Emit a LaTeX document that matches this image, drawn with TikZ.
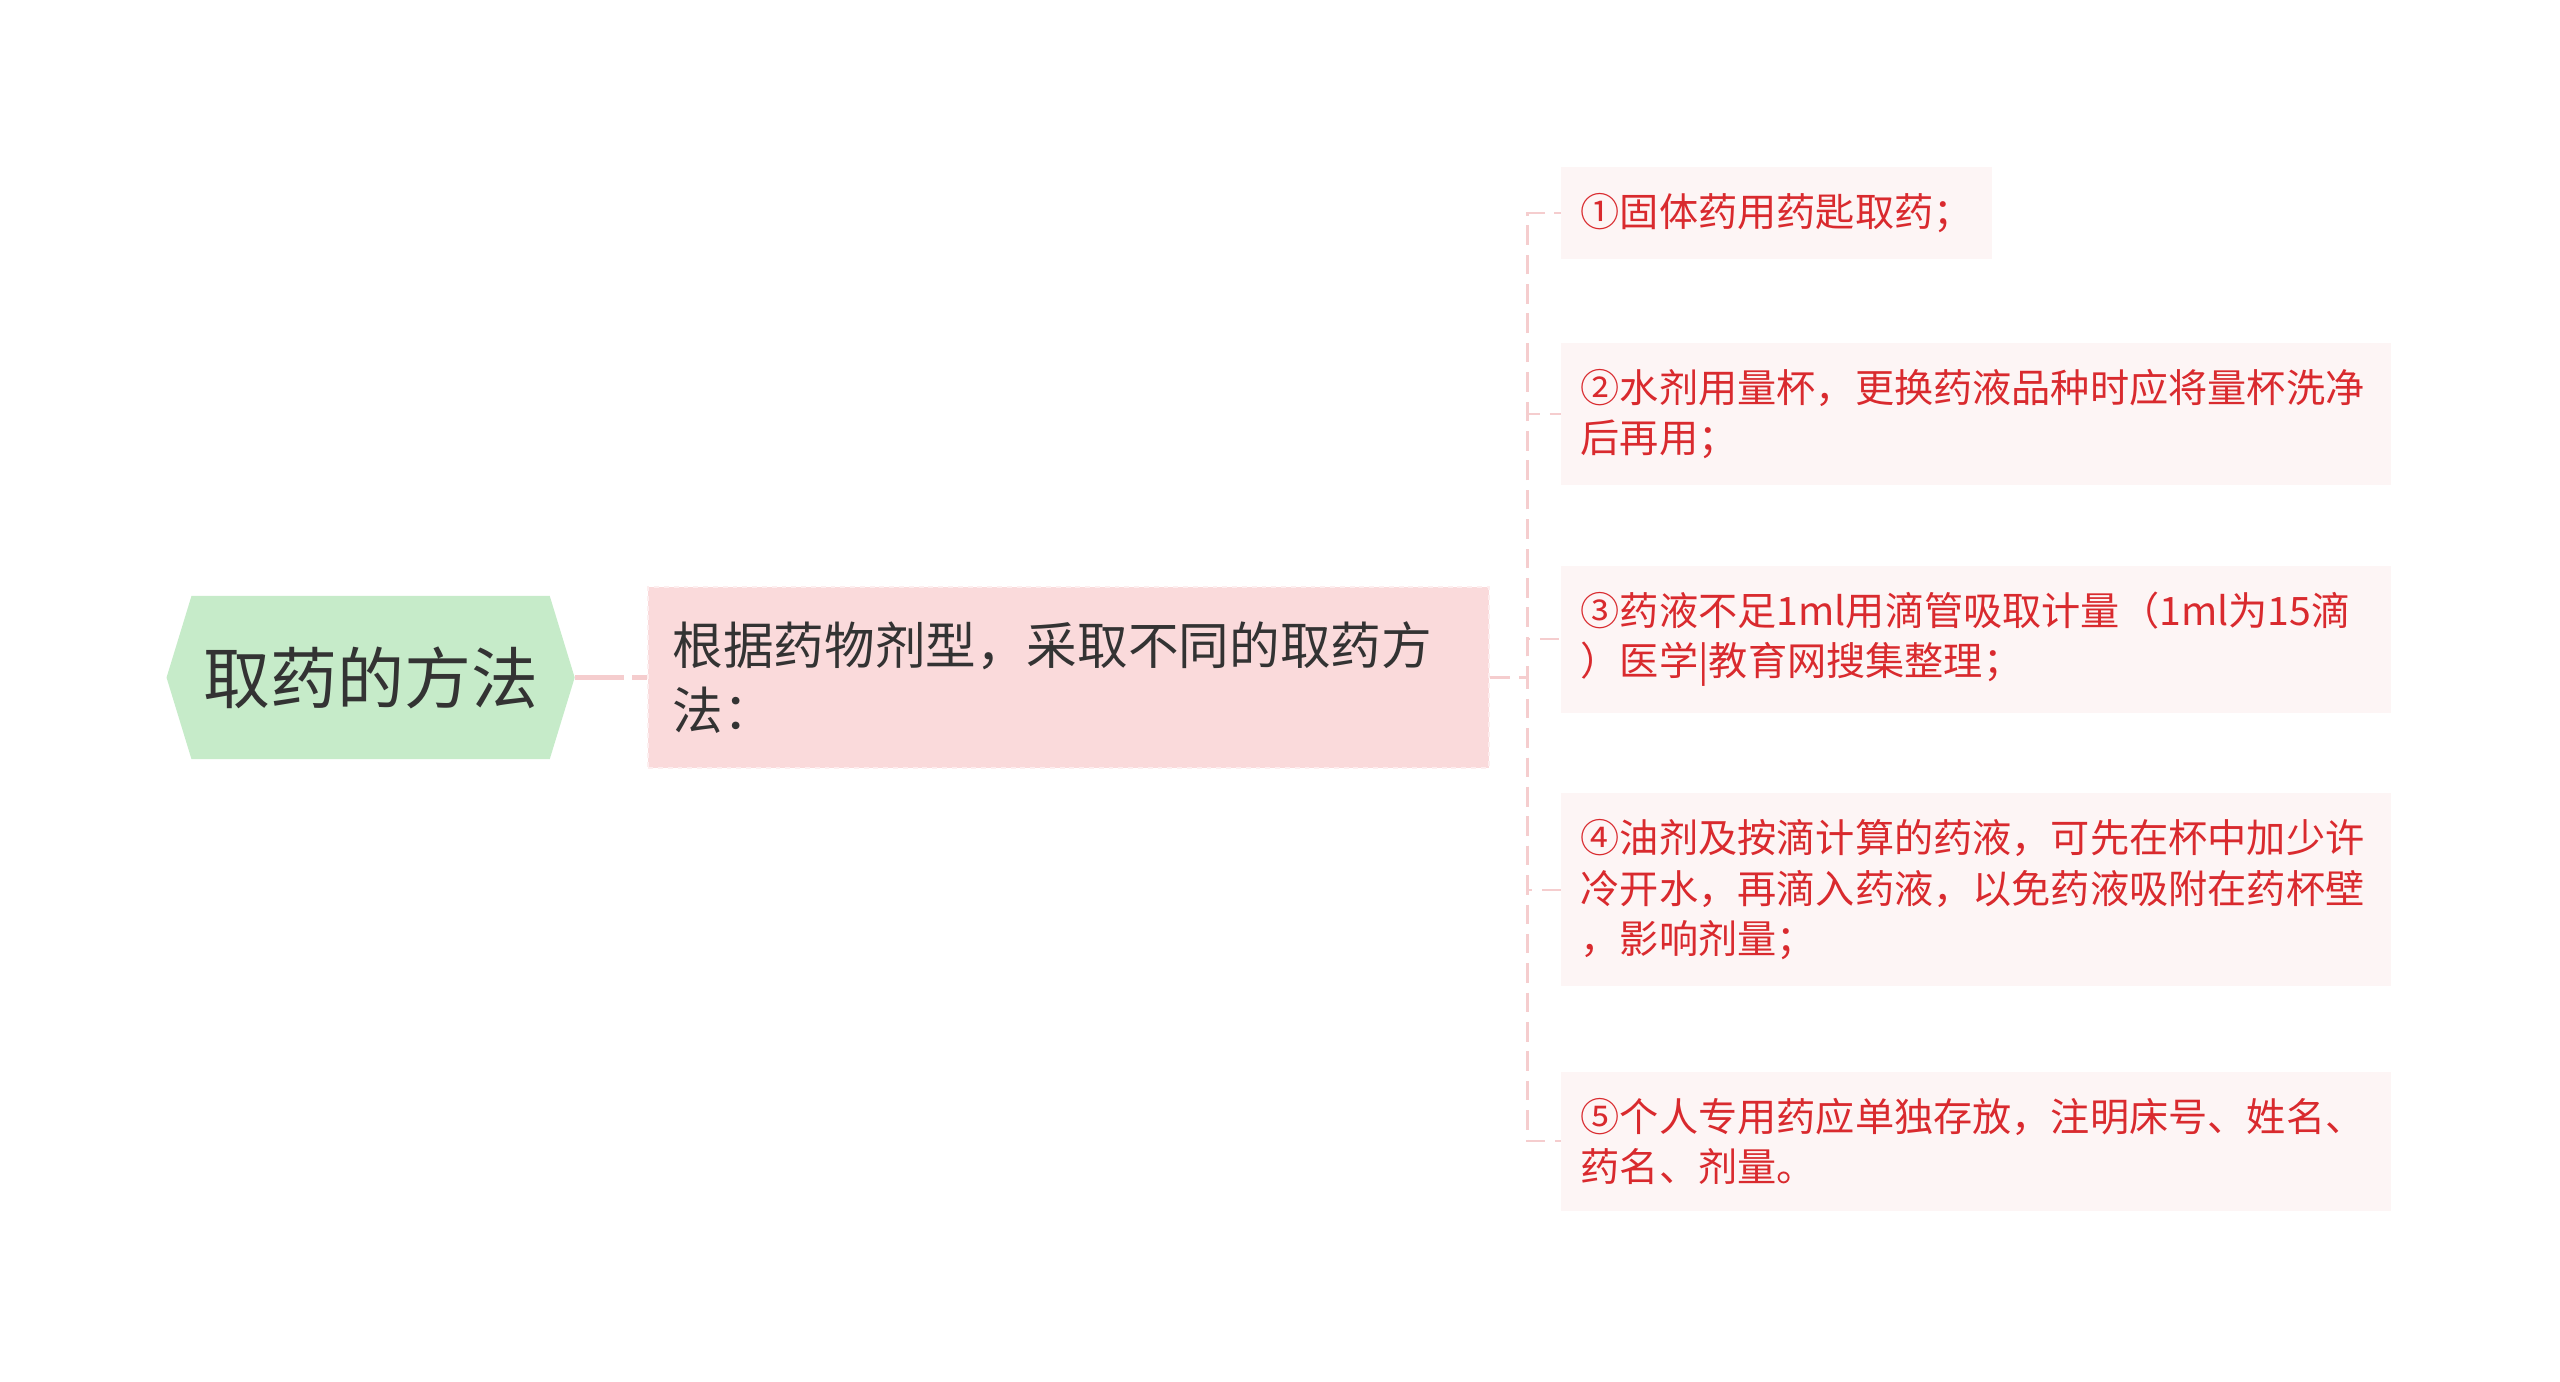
\documentclass[tikz,border=0pt]{standalone}
\usepackage{fontspec}
\setmainfont{Noto Sans CJK SC}
\usetikzlibrary{shapes.symbols}

\definecolor{rootgreen}{HTML}{C6EBC9}
\definecolor{mainpink}{HTML}{FADADB}
\definecolor{leafpink}{HTML}{FDF5F5}
\definecolor{leafred}{HTML}{D92A2E}
\definecolor{linkpink}{HTML}{F5CDCE}
\definecolor{textgray}{HTML}{333333}

\begin{document}
\begin{tikzpicture}[x=1pt,y=1pt,
  rootnode/.style={shape=signal,signal to=west and east,signal pointer angle=146,
    fill=rootgreen,minimum width=250pt,minimum height=100pt,inner sep=0pt,
    text=textgray,font=\fontsize{41}{50}\selectfont},
  mainnode/.style={rectangle,fill=mainpink,draw=white!55!mainpink,dashed,line width=1.2pt,
    text width=485pt,align=left,inner xsep=15pt,inner ysep=21pt,
    text=textgray,font=\fontsize{31}{40}\selectfont},
  leafnode/.style={rectangle,fill=leafpink,anchor=west,align=left,
    inner xsep=12pt,inner ysep=16pt,text=leafred,font=\fontsize{24}{31}\selectfont},
  leafwide/.style={leafnode,text width=484pt},
  rootlink/.style={draw=linkpink,line width=3pt,dash pattern=on 30pt off 5pt},
  leaflink/.style={draw=linkpink,line width=1.3pt,dash pattern=on 12pt off 6pt}]
\useasboundingbox (0,0) rectangle (1568,-845.9);

\node[rootnode] (root) at (227,-415) {取药的方法};
\node[mainnode] (main) at (654.5,-415) {根据药物剂型，采取不同的取药方\\法：};

\node[leafnode] (c1) at (956,-130.5) {①固体药用药匙取药；};
\node[leafwide] (c2) at (956,-253.5) {②水剂用量杯，更换药液品种时应将量杯洗净\\后再用；};
\node[leafwide] (c3) at (956,-391.5) {③药液不足1ml用滴管吸取计量（1ml为15滴\\）医学|教育网搜集整理；};
\node[leafwide] (c4) at (956,-545) {④油剂及按滴计算的药液，可先在杯中加少许\\冷开水，再滴入药液，以免药液吸附在药杯壁\\，影响剂量；};
\node[leafwide] (c5) at (956,-699) {⑤个人专用药应单独存放，注明床号、姓名、\\药名、剂量。};

\draw[rootlink] (root.east) -- (main.west);
\coordinate (fork) at ([xshift=23pt]main.east);
\draw[leaflink] (main.east) -- (fork) |- (c1.west);
\draw[leaflink] (main.east) -- (fork) |- (c2.west);
\draw[leaflink] (main.east) -- (fork) |- (c3.west);
\draw[leaflink] (main.east) -- (fork) |- (c4.west);
\draw[leaflink] (main.east) -- (fork) |- (c5.west);
\end{tikzpicture}
\end{document}
